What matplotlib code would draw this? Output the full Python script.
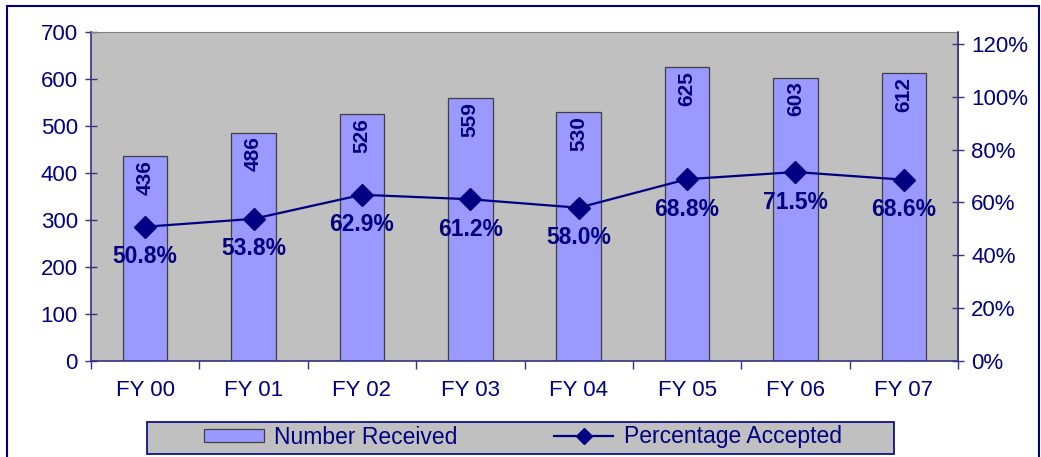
import numpy as np
import matplotlib
matplotlib.use('Agg')
import matplotlib.pyplot as plt
from matplotlib.patches import Rectangle, Patch
from matplotlib.lines import Line2D
from matplotlib.ticker import FixedLocator, PercentFormatter

plt.rcParams['font.family'] = ['Liberation Sans', 'DejaVu Sans']

# data
years = ['FY 00', 'FY 01', 'FY 02', 'FY 03', 'FY 04', 'FY 05', 'FY 06', 'FY 07']
received = [436, 486, 526, 559, 530, 625, 603, 612]
accepted = [50.8, 53.8, 62.9, 61.2, 58.0, 68.8, 71.5, 68.6]

navy = '#000080'
x = np.arange(len(years))

fig = plt.figure(figsize=(10.41, 4.57), dpi=100)
fig.patch.set_facecolor('white')
ax = fig.add_axes([0.0874, 0.2101, 0.8329, 0.7199])
ax.set_facecolor('#C0C0C0')

# bars
ax.bar(x, received, width=0.41, color='#9999FF', edgecolor='#404040', linewidth=0.9, zorder=2)
for i, v in enumerate(received):
    ax.annotate(str(v), xy=(i, v), xytext=(0, -4), textcoords='offset pixels',
                rotation=90, ha='center', va='top', fontsize=15, fontweight='bold',
                color=navy, zorder=3)

ax.set_xlim(-0.5, len(years) - 0.5)
ax.set_ylim(0, 700)
ax.set_yticks(range(0, 701, 100))
ax.set_xticks(x)
ax.set_xticklabels(years)
ax.xaxis.set_minor_locator(FixedLocator(np.arange(-0.5, len(years), 1.0)))
ax.tick_params(axis='x', which='major', length=0, pad=14, labelsize=16, labelcolor=navy)
ax.tick_params(axis='x', which='minor', length=6, width=1, color='#333380', direction='out')
ax.tick_params(axis='y', length=9, width=1, color='#333380', direction='inout',
               labelsize=16, labelcolor=navy, pad=5)
for s in ['top', 'right']:
    ax.spines[s].set_color('#808080')
for s in ['left', 'bottom']:
    ax.spines[s].set_color('#333380')
    ax.spines[s].set_linewidth(1.2)

# line on secondary axis
ax2 = ax.twinx()
ax2.plot(x, [a / 100 for a in accepted], color=navy, linewidth=1.6, marker='D',
         markersize=11, zorder=4)
for i, a in enumerate(accepted):
    ax2.annotate('%.1f%%' % a, xy=(i, a / 100), xytext=(0, -30), textcoords='offset pixels',
                 ha='center', va='center', fontsize=16.5, fontweight='bold', color=navy)
ax2.set_ylim(0, 1.245)
ax2.set_yticks(np.arange(0, 1.21, 0.2))
ax2.yaxis.set_major_formatter(PercentFormatter(1.0, decimals=0))
ax2.tick_params(axis='y', length=9, width=1, color='#333380', direction='inout',
                labelsize=16, labelcolor=navy, pad=5)
for s in ['top', 'left', 'bottom']:
    ax2.spines[s].set_visible(False)
ax2.spines['right'].set_color('#333380')
ax2.spines['right'].set_linewidth(1.2)

# legend box
fig.patches.append(Rectangle((147 / 1041, 1 - 454 / 457), 747 / 1041, 32 / 457,
                             transform=fig.transFigure, facecolor='#C0C0C0',
                             edgecolor=navy, linewidth=1.2, zorder=1))
handles = [Patch(facecolor='#9999FF', edgecolor='#404040', linewidth=0.9),
           Line2D([0], [0], color=navy, linewidth=1.6, marker='D', markersize=8)]
leg = fig.legend(handles, ['Number Received', 'Percentage Accepted'], ncol=2,
                 loc='center', bbox_to_anchor=(523 / 1041, 1 - 437 / 457),
                 fontsize=16.5, frameon=False, handlelength=2.6, handleheight=0.5,
                 handletextpad=0.45, columnspacing=4.2, borderpad=0)
leg.set_zorder(2)
for t in leg.get_texts():
    t.set_color(navy)

# outer border
fig.patches.append(Rectangle((0.0067, -0.05), 0.9915, 1.037, transform=fig.transFigure,
                             fill=False, edgecolor=navy, linewidth=1.5))

fig.savefig('out.png', dpi=100)
